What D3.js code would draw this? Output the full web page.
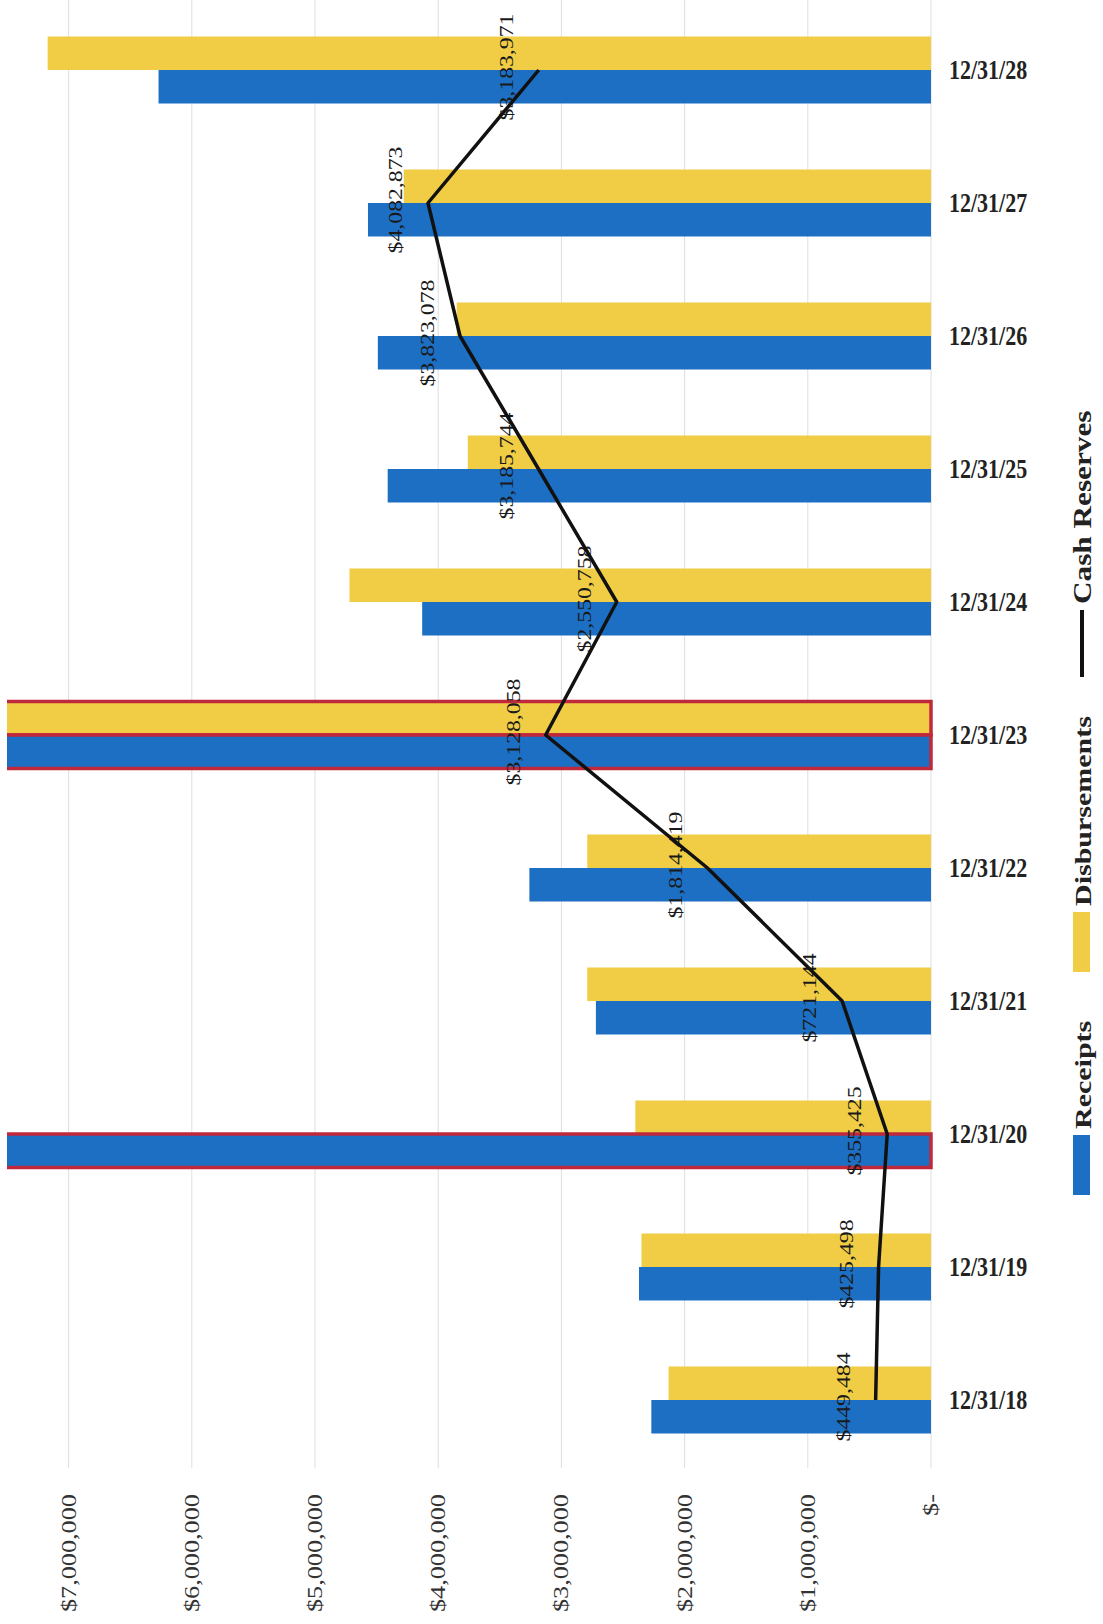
<!DOCTYPE html>
<html>
<head>
<meta charset="utf-8">
<script src="https://cdn.jsdelivr.net/npm/d3@7"></script>
<style>
  body { margin: 0; background: #fff; }
  text { font-family: "Liberation Serif", "Times New Roman", serif; }
</style>
</head>
<body>
<script>
var categories = ["12/31/18","12/31/19","12/31/20","12/31/21","12/31/22","12/31/23","12/31/24","12/31/25","12/31/26","12/31/27","12/31/28"];
var receipts = [2270000, 2370000, 8000000, 2720000, 3260000, 8300000, 4130000, 4410000, 4490000, 4570000, 6270000];
var disbursements = [2130000, 2350000, 2400000, 2790000, 2790000, 8300000, 4720000, 3760000, 3850000, 4280000, 7170000];
var cashReserves = [449484, 425498, 355425, 721144, 1814419, 3128058, 2550758, 3185744, 3823078, 4082873, 3183971];
var tickValues = [0, 1000000, 2000000, 3000000, 4000000, 5000000, 6000000, 7000000];
var seriesNames = ["Receipts", "Disbursements", "Cash Reserves"];

var width = 1103, height = 1624;
var stretch = 1.25; // the scan is taller than wide, text looks stretched

var svg = d3.select("body").append("svg").attr("width", width).attr("height", height);

// page is turned: values run right -> left, dates bottom -> top
var x = d3.scaleLinear().domain([0, 7500000]).range([931, 7]);
var y = d3.scaleBand().domain(categories.slice().reverse()).range([3.5, 1466.5]).paddingInner(0);
var sub = d3.scaleBand().domain(["Disbursements", "Receipts"]).range([0, y.bandwidth()]).paddingOuter(0.985);

var colors = { "Receipts": "#1d6fc4", "Disbursements": "#f0cd45" };
var maxVal = x.domain()[1];

var data = categories.map(function(c, i) {
  return { cat: c, Receipts: receipts[i], Disbursements: disbursements[i], cash: cashReserves[i] };
});

// grid
svg.append("g").selectAll("line").data(tickValues).enter().append("line")
  .attr("x1", function(d){ return x(d); }).attr("x2", function(d){ return x(d); })
  .attr("y1", 0).attr("y2", 1468)
  .attr("stroke", "#dedede").attr("stroke-width", 1);

// tick labels
var fmtTick = function(d){ return d === 0 ? "$-" : d3.format("$,")(d); };
svg.append("g").selectAll("text").data(tickValues).enter().append("text")
  .attr("transform", function(d){ return "translate(" + x(d) + ",1494) rotate(-90) scale(" + stretch + ",1)"; })
  .attr("text-anchor", "end").attr("dominant-baseline", "central")
  .attr("font-size", 21).attr("fill", "#333")
  .text(fmtTick);

// bars
svg.append("defs").append("clipPath").attr("id", "clip")
  .append("rect").attr("x", x.range()[1]).attr("y", 0).attr("width", x.range()[0] - x.range()[1] + 10).attr("height", 1500);

var barG = svg.append("g").attr("clip-path", "url(#clip)");
data.forEach(function(d) {
  ["Disbursements", "Receipts"].forEach(function(s) {
    var v = d[s];
    barG.append("rect")
      .attr("x", x(v)).attr("y", y(d.cat) + sub(s))
      .attr("width", x(0) - x(v)).attr("height", sub.bandwidth())
      .attr("fill", colors[s])
      .attr("stroke", v > maxVal ? "#c0283c" : "none")
      .attr("stroke-width", v > maxVal ? 3.5 : 0);
  });
});

// category labels
svg.append("g").selectAll("text").data(categories).enter().append("text")
  .attr("transform", function(d){ return "translate(949," + (y(d) + y.bandwidth() / 2) + ") scale(1," + stretch + ")"; })
  .attr("dominant-baseline", "central")
  .attr("font-size", 22).attr("font-weight", "bold").attr("fill", "#222")
  .text(function(d){ return d; });

// cash reserve labels
svg.append("g").selectAll("text").data(data).enter().append("text")
  .attr("transform", function(d){
    return "translate(" + (x(d.cash) - 32) + "," + (y(d.cat) + y.bandwidth() / 2 - 3) + ") rotate(-90) scale(" + stretch + ",1)";
  })
  .attr("text-anchor", "middle").attr("dominant-baseline", "central")
  .attr("font-size", 19).attr("fill", "#1a1a1a")
  .text(function(d){ return d3.format("$,")(d.cash); });

// cash reserve line
var line = d3.line()
  .x(function(d){ return x(d.cash); })
  .y(function(d){ return y(d.cat) + y.bandwidth() / 2; });
svg.append("path").datum(data)
  .attr("fill", "none").attr("stroke", "#111").attr("stroke-width", 3.5)
  .attr("stroke-linejoin", "round")
  .attr("d", line);

// legend, reading bottom -> top
var legend = svg.append("g");
var legX = 1091;
var legItems = [
  { name: seriesNames[0], type: "box", color: colors["Receipts"], y0: 1195, len: 60, size: 24 },
  { name: seriesNames[1], type: "box", color: colors["Disbursements"], y0: 972, len: 60, size: 24 },
  { name: seriesNames[2], type: "line", color: "#111", y0: 677, len: 67, size: 25 }
];
legItems.forEach(function(it) {
  if (it.type === "box") {
    legend.append("rect").attr("x", 1073).attr("y", it.y0 - it.len).attr("width", 17).attr("height", it.len).attr("fill", it.color);
  } else {
    legend.append("line").attr("x1", 1082).attr("x2", 1082).attr("y1", it.y0).attr("y2", it.y0 - it.len)
      .attr("stroke", it.color).attr("stroke-width", 4);
  }
  var ty = it.y0 - it.len - 6;
  legend.append("text")
    .attr("transform", "translate(" + legX + "," + ty + ") rotate(-90) scale(" + stretch + ",1)")
    .attr("font-size", it.size).attr("font-weight", "bold").attr("fill", "#222")
    .text(it.name);
});
</script>
</body>
</html>
